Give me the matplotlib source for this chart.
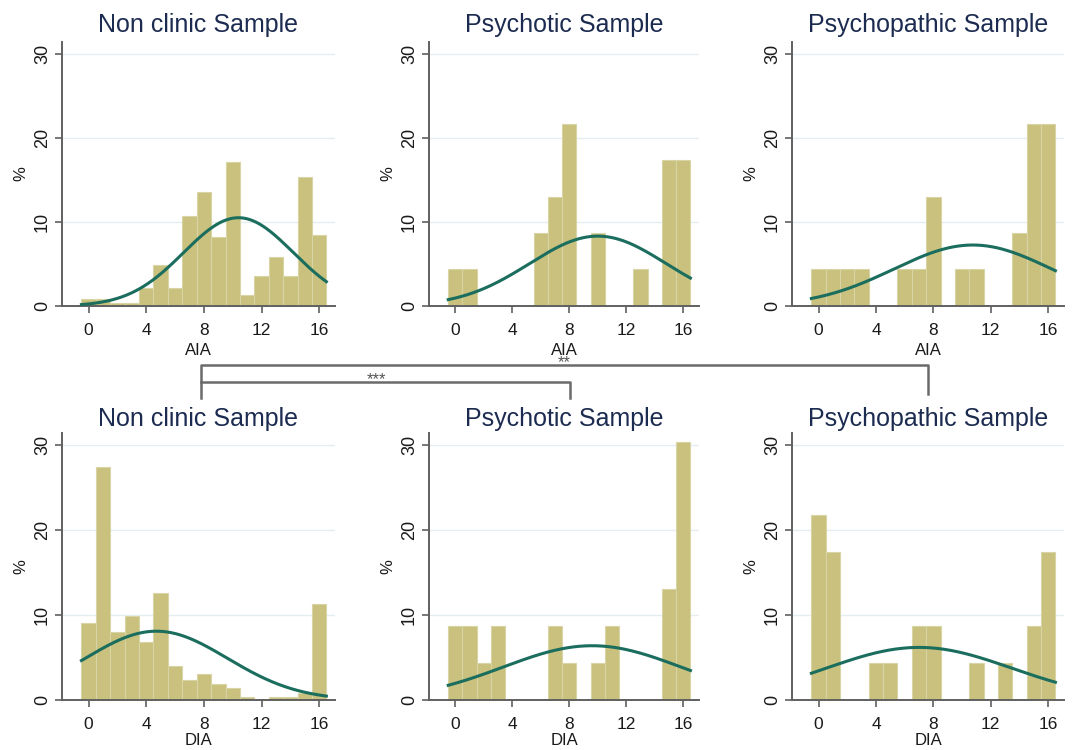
import matplotlib.pyplot as plt
import numpy as np

plt.rcParams['font.family'] = ['Liberation Sans', 'DejaVu Sans']

scores = np.arange(0, 17)

# percent of sample per score (bin width 1)
aia_nonclinic = [0.8, 0.8, 0.4, 0.4, 2.2, 4.9, 2.2, 10.7, 13.5, 8.2, 17.1, 1.3, 3.6, 5.8, 3.6, 15.4, 8.5]
aia_psychotic = [4.35, 4.35, 0, 0, 0, 0, 8.7, 13.0, 21.7, 0, 8.7, 0, 0, 4.35, 0, 17.4, 17.4]
aia_psychopathic = [4.35, 4.35, 4.35, 4.35, 0, 0, 4.35, 4.35, 13.0, 0, 4.35, 4.35, 0, 0, 8.7, 21.7, 21.7]
dia_nonclinic = [9.0, 27.4, 8.0, 9.9, 6.8, 12.6, 4.05, 2.3, 3.1, 1.9, 1.4, 0.4, 0, 0.4, 0.4, 0.8, 11.3]
dia_psychotic = [8.7, 8.7, 4.35, 8.7, 0, 0, 0, 8.7, 4.35, 0, 4.35, 8.7, 0, 0, 0, 13.0, 30.4]
dia_psychopathic = [21.7, 17.4, 0, 0, 4.35, 4.35, 0, 8.7, 8.7, 0, 0, 4.35, 0, 4.35, 0, 8.7, 17.4]

# normal overlay (mean, sd) per panel
aia_normal = [(10.4, 3.8), (10.0, 4.8), (10.75, 5.5)]
dia_normal = [(4.7, 4.93), (9.6, 6.25), (7.0, 6.45)]

titles = ['Non clinic Sample', 'Psychotic Sample', 'Psychopathic Sample']
xticks = [0, 4, 8, 12, 16]
yticks = [0, 10, 20, 30]

bar_col = '#c9c17d'
curve_col = '#1b6d5e'
title_col = '#1c2b50'
axis_col = '#606060'

W, H = 1072, 750
fig = plt.figure(figsize=(W / 100, H / 100), dpi=100)

lefts = [62, 429, 792]
widths = [273, 270, 272]
rows = [(42, 306, 'AIA', [aia_nonclinic, aia_psychotic, aia_psychopathic], aia_normal, 7, -0.140),
        (433, 700, 'DIA', [dia_nonclinic, dia_psychotic, dia_psychopathic], dia_normal, 5, -0.124)]

xs = np.linspace(-0.5, 16.5, 300)
for top, bottom, xlab, series, normals, tpad, xl_y in rows:
    for j in range(3):
        ax = fig.add_axes([lefts[j] / W, 1 - bottom / H, widths[j] / W, (bottom - top) / H])
        ax.bar(scores, series[j], width=1.0, color=bar_col, edgecolor='#d9d4a6', linewidth=0.8, zorder=2)
        mu, sd = normals[j]
        ax.plot(xs, 100 / (sd * np.sqrt(2 * np.pi)) * np.exp(-0.5 * ((xs - mu) / sd) ** 2),
                color=curve_col, lw=2.2, zorder=3)
        ax.set_xlim(-1.85, 17.1)
        ax.set_ylim(0, 31.4)
        ax.set_xticks(xticks)
        ax.set_yticks(yticks)
        ax.set_yticklabels([str(v) for v in yticks], rotation=90, va='center', fontsize=13)
        ax.tick_params(axis='x', labelsize=12.5, length=5, width=1.2, color=axis_col, pad=7, labelcolor='#1a1a1a')
        ax.tick_params(axis='y', length=5, width=1.2, color=axis_col, pad=3, labelcolor='#1a1a1a')
        for y in yticks[1:]:
            ax.axhline(y, color='#e4eef0', lw=1.0, zorder=1)
        for s in ['top', 'right']:
            ax.spines[s].set_visible(False)
        for s in ['left', 'bottom']:
            ax.spines[s].set_color(axis_col)
            ax.spines[s].set_linewidth(1.4)
        ax.set_title(titles[j], fontsize=18, color=title_col, pad=tpad)
        ax.set_ylabel('%', fontsize=12, color='#1a1a1a')
        ax.yaxis.set_label_coords(-0.125, 0.5)
        ax.set_xlabel(xlab, fontsize=12, color='#1a1a1a', va='top')
        ax.xaxis.set_label_coords(0.5, xl_y)

# significance brackets
line_col = '#6a6a6a'
fig.add_artist(plt.Line2D([201 / W, 201 / W, 928 / W, 928 / W],
                          [1 - 398 / H, 1 - 364.5 / H, 1 - 364.5 / H, 1 - 394 / H],
                          color=line_col, lw=1.8))
fig.add_artist(plt.Line2D([201 / W, 570 / W, 570 / W],
                          [1 - 382 / H, 1 - 382 / H, 1 - 398 / H],
                          color=line_col, lw=1.8))
fig.text(376 / W, 1 - 384 / H, '***', ha='center', va='baseline', fontsize=12, color='#555555')
fig.text(564 / W, 1 - 367 / H, '**', ha='center', va='baseline', fontsize=12, color='#555555')

fig.savefig('out.png', dpi=100)
